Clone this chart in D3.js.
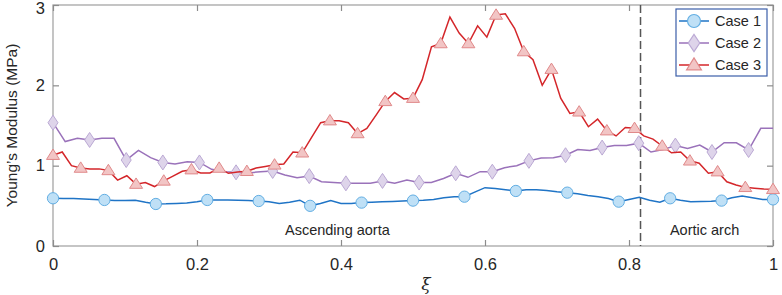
<!DOCTYPE html>
<html><head><meta charset="utf-8">
<script src="https://cdn.jsdelivr.net/npm/d3@7"></script>
<style>body{margin:0;background:#fff}svg{display:block}text{font-family:"Liberation Sans",Arial,sans-serif;fill:#262626}</style>
</head><body>
<svg id="c" width="782" height="295"></svg>
<script>
// Data
const case1 = [0.594,0.59,0.59,0.585,0.58,0.573,0.565,0.565,0.57,0.545,0.523,0.525,0.53,0.535,0.55,0.573,0.573,0.573,0.57,0.565,0.56,0.55,0.53,0.545,0.57,0.50,0.53,0.565,0.53,0.53,0.54,0.545,0.55,0.555,0.56,0.565,0.57,0.58,0.60,0.614,0.614,0.67,0.726,0.715,0.70,0.685,0.70,0.70,0.69,0.675,0.664,0.65,0.63,0.614,0.59,0.552,0.58,0.606,0.57,0.544,0.594,0.57,0.552,0.555,0.558,0.565,0.60,0.622,0.60,0.58,0.58];
const case2 = [1.535,1.30,1.34,1.32,1.34,1.34,1.07,1.19,1.10,1.04,1.02,1.05,1.04,0.955,0.925,0.917,0.91,0.925,0.934,0.884,0.85,0.87,0.80,0.79,0.78,0.78,0.78,0.81,0.78,0.82,0.79,0.79,0.84,0.905,0.855,0.925,0.925,0.975,1.0,1.06,1.095,1.10,1.13,1.20,1.19,1.225,1.25,1.25,1.28,1.17,1.20,1.25,1.215,1.257,1.17,1.285,1.285,1.195,1.465,1.465];
const case3 = [1.13,1.17,1.00,0.97,0.96,0.96,0.94,0.82,0.875,0.77,0.79,0.74,0.81,0.87,0.93,0.95,0.91,0.91,0.97,0.905,0.92,0.93,0.97,0.99,1.01,1.02,1.17,1.16,1.35,1.535,1.56,1.56,1.535,1.40,1.465,1.63,1.80,1.91,1.83,1.84,2.07,2.48,2.52,2.85,2.65,2.52,2.74,2.60,2.875,2.89,2.71,2.42,2.32,2.0,2.20,1.84,1.65,1.67,1.485,1.58,1.435,1.37,1.475,1.465,1.37,1.33,1.245,1.16,1.17,1.06,1.03,0.905,0.925,0.80,0.76,0.73,0.72,0.71,0.705];
const markerEvery = [5, 3, 3];
const seriesNames = ["Case 1", "Case 2", "Case 3"];
const xTicks = [0, 0.2, 0.4, 0.6, 0.8, 1];
const xTickLabels = ["0", "0.2", "0.4", "0.6", "0.8", "1"];
const yTicks = [0, 1, 2, 3];
const yTickLabels = ["0", "1", "2", "3"];
const boundary = 0.816;
const regionLabels = [{t:"Ascending aorta", x:0.395}, {t:"Aortic arch", x:0.905}];

const svg = d3.select("#c");
const L=53, R=773, T=5, B=246;
const x = d3.scaleLinear().domain([0,1]).range([L,R]);
const y = d3.scaleLinear().domain([0,3]).range([B,T]);

const styles = [
  {line:"#1f74c6", fill:"#bfe0f6", stroke:"#62aee3", shape:"circle"},
  {line:"#9a72ba", fill:"#ded4ea", stroke:"#bba9d4", shape:"diamond"},
  {line:"#d4262a", fill:"#f2c5c5", stroke:"#e0898a", shape:"triangle"}
];
function markerPath(shape){
  if(shape==="circle") return d3.symbol(d3.symbolCircle, 100)();
  if(shape==="diamond") return "M0,-7.5L5,0L0,7.5L-5,0Z";
  return "M0,-6.2L6.5,4.2L-6.5,4.2Z";
}

// axes box & ticks
const g = svg.append("g");
g.append("rect").attr("x",L).attr("y",T).attr("width",R-L).attr("height",B-T)
  .attr("fill","none").attr("stroke","#a6a6a6").attr("stroke-width",1.3);
const tickLen = 6;
const axB = d3.axisBottom(x).tickValues(xTicks).tickFormat((d,i)=>xTickLabels[i]).tickSizeInner(-tickLen).tickSizeOuter(0).tickPadding(12);
const axT = d3.axisTop(x).tickValues(xTicks).tickFormat("").tickSizeInner(-tickLen).tickSizeOuter(0);
const axL = d3.axisLeft(y).tickValues(yTicks).tickFormat((d,i)=>yTickLabels[i]).tickSizeInner(-tickLen).tickSizeOuter(0).tickPadding(8);
const axR = d3.axisRight(y).tickValues(yTicks).tickFormat("").tickSizeInner(-tickLen).tickSizeOuter(0);
[[axB,`translate(0,${B})`],[axT,`translate(0,${T})`],[axL,`translate(${L},0)`],[axR,`translate(${R},0)`]].forEach(([a,tr])=>{
  const ga = g.append("g").attr("transform",tr).call(a);
  ga.select(".domain").remove();
  ga.selectAll(".tick line").attr("stroke","#8c8c8c").attr("stroke-width",1.2);
  ga.selectAll(".tick text").attr("font-size",16.5).attr("fill","#262626").style("font-family",'"Liberation Sans",Arial,sans-serif');
});
// keep the top label inside the picture
g.selectAll(".tick text").filter(function(){return this.textContent==="3";}).attr("dy","0.5em");

// boundary dashed line
g.append("line").attr("x1",x(boundary)).attr("x2",x(boundary)).attr("y1",T).attr("y2",B)
  .attr("stroke","#555").attr("stroke-width",1.5).attr("stroke-dasharray","8,4");

// series
[case1, case2, case3].forEach((vals, si)=>{
  const n = vals.length-1;
  const pts = vals.map((v,i)=>[i/n, v]);
  const st = styles[si];
  g.append("path").datum(pts).attr("fill","none").attr("stroke",st.line).attr("stroke-width",1.5)
    .attr("d", d3.line().x(d=>x(d[0])).y(d=>y(d[1])));
  g.selectAll(null).data(pts.filter((d,i)=>i%markerEvery[si]===0)).enter().append("path")
    .attr("d", markerPath(st.shape)).attr("transform",d=>`translate(${x(d[0])},${y(d[1])})`)
    .attr("fill",st.fill).attr("stroke",st.stroke).attr("stroke-width",1);
});

// region labels
regionLabels.forEach(r=>{
  g.append("text").attr("x",x(r.x)).attr("y",235).attr("text-anchor","middle").attr("font-size",14.5).text(r.t);
});

// axis labels
svg.append("text").attr("transform",`translate(17,${(T+B)/2}) rotate(-90)`).attr("text-anchor","middle")
  .attr("font-size",15.5).text("Young’s Modulus (MPa)");
svg.append("text").attr("x",426).attr("y",290).attr("text-anchor","middle").attr("font-size",17)
  .style("font-family",'"DejaVu Serif",serif').attr("font-style","italic").text("ξ");

// legend
const lg = svg.append("g");
lg.append("rect").attr("x",676).attr("y",9).attr("width",91).attr("height",67)
  .attr("fill","#fff").attr("stroke","#3b5ea8").attr("stroke-width",1.2);
seriesNames.forEach((name,i)=>{
  const yy = 21 + i*22;
  const st = styles[i];
  lg.append("line").attr("x1",679).attr("x2",709).attr("y1",yy).attr("y2",yy).attr("stroke",st.line).attr("stroke-width",1.5);
  lg.append("path").attr("d",markerPath(st.shape)).attr("transform",`translate(694,${yy}) scale(1.15)`)
    .attr("fill",st.fill).attr("stroke",st.stroke).attr("stroke-width",1);
  lg.append("text").attr("x",715).attr("y",yy+5).attr("font-size",14.5).text(name);
});
</script>
</body></html>
